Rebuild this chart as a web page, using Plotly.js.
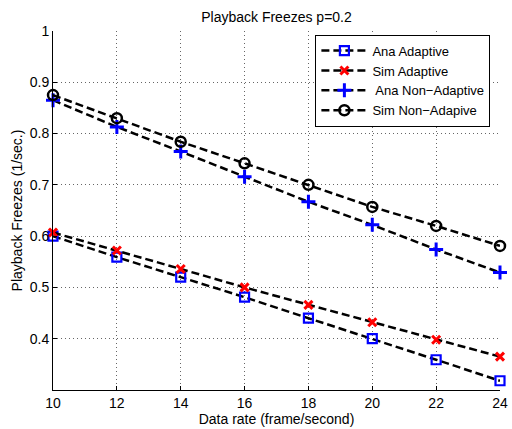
<!DOCTYPE html>
<html>
<head>
<meta charset="utf-8">
<script src="https://cdn.plot.ly/plotly-3.0.1.min.js"></script>
<style>html,body{margin:0;padding:0;background:#fff;}#chart{width:512px;height:429px;}</style>
</head>
<body>
<div id="chart"></div>
<script>
const dataRate = [10, 12, 14, 16, 18, 20, 22, 24];
const anaAdaptive = [0.600, 0.559, 0.520, 0.481, 0.440, 0.400, 0.359, 0.318];
const simAdaptive = [0.607, 0.572, 0.536, 0.500, 0.466, 0.432, 0.398, 0.365];
const anaNonAdaptive = [0.865, 0.813, 0.765, 0.716, 0.667, 0.622, 0.574, 0.529];
const simNonAdaptive = [0.875, 0.830, 0.784, 0.742, 0.700, 0.657, 0.620, 0.581];
const seriesNames = ['Ana Adaptive', 'Sim Adaptive', ' Ana Non\u2212Adaptive', 'Sim Non\u2212Adapive'];
const xTicks = [10, 12, 14, 16, 18, 20, 22, 24];
const yTicks = [0.4, 0.5, 0.6, 0.7, 0.8, 0.9, 1];

const lineStyle = {color: '#000', width: 2.5, dash: '8px,4px'};
const traces = [
  {x: dataRate, y: anaAdaptive, name: seriesNames[0], mode: 'lines+markers', line: lineStyle, cliponaxis: false,
   marker: {symbol: 'square-open', size: 9, color: '#0000ff', line: {width: 2.2, color: '#0000ff'}}},
  {x: dataRate, y: simAdaptive, name: seriesNames[1], mode: 'lines+markers', line: lineStyle, cliponaxis: false,
   marker: {symbol: 'x-thin-open', size: 8, color: '#ff0000', line: {width: 3, color: '#ff0000'}}},
  {x: dataRate, y: anaNonAdaptive, name: seriesNames[2], mode: 'lines+markers', line: lineStyle, cliponaxis: false,
   marker: {symbol: 'cross-thin-open', size: 10, color: '#0000ff', line: {width: 3, color: '#0000ff'}}},
  {x: dataRate, y: simNonAdaptive, name: seriesNames[3], mode: 'lines+markers', line: lineStyle, cliponaxis: false,
   marker: {symbol: 'circle-open', size: 10, color: '#000', line: {width: 2.5, color: '#000'}}}
];

const font = 'Liberation Sans, Arial, sans-serif';
const layout = {
  width: 512, height: 429,
  margin: {l: 53, r: 12, t: 31, b: 39},
  paper_bgcolor: '#fff', plot_bgcolor: '#fff',
  font: {family: font, size: 13, color: '#000'},
  title: {text: 'Playback Freezes p=0.2', font: {family: font, size: 14, color: '#000'},
          x: 0.5, xref: 'paper', xanchor: 'center', y: 1, yref: 'paper', yanchor: 'bottom', pad: {b: 9}},
  showlegend: true,
  legend: {x: 0.587, y: 0.99, xanchor: 'left', yanchor: 'top', bgcolor: '#fff',
           bordercolor: '#000', borderwidth: 1, font: {family: font, size: 13, color: '#000'},
           tracegroupgap: 0, itemwidth: 46},
  xaxis: {range: [10, 24], tickvals: xTicks, ticktext: xTicks.map(String), showgrid: true,
          gridcolor: '#666', griddash: '1px,3px', gridwidth: 1, showline: true, linecolor: '#000', linewidth: 1,
          mirror: false, zeroline: false, ticks: 'inside', ticklen: 4, tickcolor: '#000',
          tickfont: {family: font, size: 14, color: '#000'},
          title: {text: 'Data rate (frame/second)', font: {family: font, size: 14, color: '#000'}, standoff: 0}},
  yaxis: {range: [0.3, 1], tickvals: yTicks, ticktext: yTicks.map(v => String(v)), showgrid: true,
          gridcolor: '#666', griddash: '1px,3px', gridwidth: 1, showline: true, linecolor: '#000', linewidth: 1,
          mirror: false, zeroline: false, ticks: 'inside', ticklen: 4, tickcolor: '#000',
          tickfont: {family: font, size: 14, color: '#000'},
          title: {text: 'Playback Freezes (1/sec.)', font: {family: font, size: 14, color: '#000'}, standoff: 3}}
};
Plotly.newPlot('chart', traces, layout, {displayModeBar: false, staticPlot: true});
</script>
</body>
</html>
